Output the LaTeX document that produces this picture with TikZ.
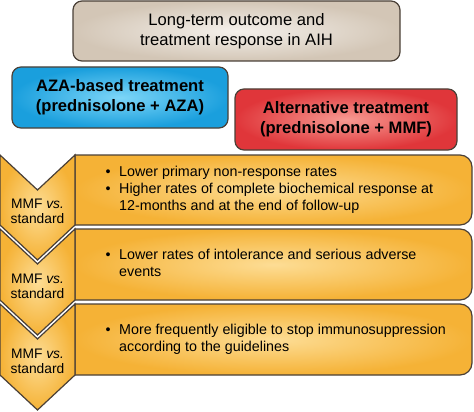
\documentclass[tikz,border=0pt]{standalone}
\usepackage{fontspec}
\setmainfont{Liberation Sans}
\usepackage{xcolor}
\usetikzlibrary{positioning}

\definecolor{tanout}{HTML}{D3C6B6}
\definecolor{tanin}{HTML}{F5F1EC}
\definecolor{blueout}{HTML}{1A9FDD}
\definecolor{bluein}{HTML}{7DD6F8}
\definecolor{redout}{HTML}{E0363A}
\definecolor{redin}{HTML}{F79A92}
\definecolor{goldout}{HTML}{F5B236}
\definecolor{goldin}{HTML}{FDDD95}
\definecolor{edgegray}{HTML}{4A4037}

\tikzset{
  headbox/.style={draw=edgegray, line width=1.2pt, rounded corners=9pt, align=center},
  goldbox/.style={draw=edgegray, line width=1.2pt, inner color=goldin, outer color=goldout},
  chevtext/.style={align=center, font=\fontsize{13.8}{15}\selectfont},
  bullets/.style={anchor=west, align=left, inner sep=0pt, font=\fontsize{14.3}{17}\selectfont}
}

\begin{document}
\begin{tikzpicture}[x=1pt, y=-1pt, font=\fontsize{16.6}{20}\selectfont]
        \useasboundingbox (0,0) rectangle (474,412);
        % heading boxes
        \node[headbox, inner color=tanin, outer color=tanout,
              minimum width=327pt, minimum height=60pt] (outcome) at (236.5,31)
              {Long-term outcome and\\treatment response in AIH};
        \node[headbox, inner color=bluein, outer color=blueout, font=\bfseries\fontsize{16.6}{20}\selectfont,
              minimum width=216pt, minimum height=61pt] (aza) at (120,97.5)
              {AZA-based treatment\\(prednisolone + AZA)};
        \node[headbox, inner color=redin, outer color=redout, font=\bfseries\fontsize{16.6}{20}\selectfont,
              minimum width=222pt, minimum height=61pt] (alt) at (346,119.5)
              {Alternative treatment\\(prednisolone + MMF)};
        % chevrons and result bands
        \foreach \t/\b/\n in {155/225/1, 229/300/2, 304/375/3} {
          \draw[goldbox] (75,\t) -- (460,\t) arc[start angle=90, end angle=0, radius=12pt]
            -- (472,\b-12) arc[start angle=0, end angle=-90, radius=12pt] -- (75,\b) -- cycle;
          \draw[goldbox] (0,\t) -- (37.5,\t+35) -- (75,\t) -- (75,\b) -- (37.5,\b+35) -- (0,\b) -- cycle;
          \node[chevtext] (vs\n) at (37.5,\b-13.5) {MMF \textit{vs.}\\standard};
        }
        \node[bullets] (res1) at (105.5,190) {\begin{tabular}{@{}p{13.5pt}@{}l@{}}
          \textbullet & Lower primary non-response rates\\
          \textbullet & Higher rates of complete biochemical response at\\
          & 12-months and at the end of follow-up
          \end{tabular}};
        \node[bullets] (res2) at (105.5,265) {\begin{tabular}{@{}p{13.5pt}@{}l@{}}
          \textbullet & Lower rates of intolerance and serious adverse\\
          & events
          \end{tabular}};
        \node[bullets] (res3) at (105.5,340) {\begin{tabular}{@{}p{13.5pt}@{}l@{}}
          \textbullet & More frequently eligible to stop immunosuppression\\
          & according to the guidelines
          \end{tabular}};
      \end{tikzpicture}
\end{document}
